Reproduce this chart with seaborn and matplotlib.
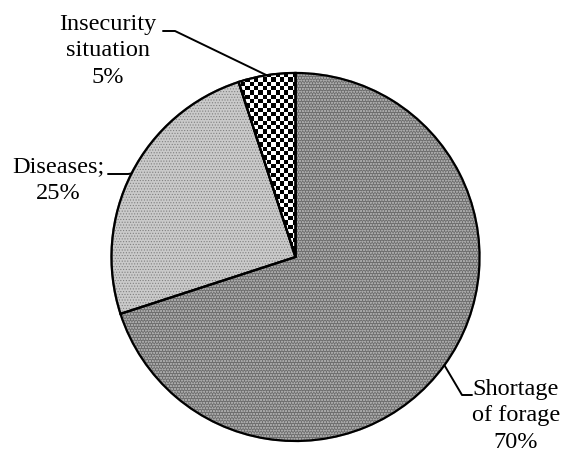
import numpy as np
import matplotlib.pyplot as plt
import seaborn as sns
from matplotlib.patches import Wedge

# data
labels = ["Shortage\nof forage", "Diseases;", "Insecurity\nsituation"]
pcts = [70, 25, 5]
fills = ["#6e6e6e", "#cacaca", "white"]

sns.set_theme(style="white")
plt.rcParams["font.family"] = ["Liberation Serif", "DejaVu Serif"]
plt.rcParams["hatch.linewidth"] = 0.5

W, H = 569, 455
fig = plt.figure(figsize=(W / 100, H / 100), dpi=100)
ax = fig.add_axes([0, 0, 1, 1])

cx, cy, r = 295.5, H - 257, 184

wedges, _ = ax.pie(pcts, colors=fills, startangle=90, counterclock=False,
                   center=(cx, cy), radius=r, frame=True,
                   wedgeprops=dict(edgecolor="black", linewidth=1.6))
ax.set_xlim(0, W)
ax.set_ylim(0, H)
ax.set_aspect("auto")
ax.axis("off")

# fine dotted textures (hatch colour follows edge colour, outline redrawn below)
wedges[0].set_hatch("oooooo")
wedges[0].set_edgecolor("#a8a8a8")
wedges[1].set_hatch("......")
wedges[1].set_edgecolor("#808080")

# checkerboard for the small slice
n = int(2 * r / 4.3)
board = np.indices((n, n)).sum(axis=0) % 2
im = ax.imshow(board, cmap="gray", interpolation="nearest", zorder=3,
               extent=(cx - r, cx + r, cy - r, cy + r), aspect="auto")
im.set_clip_path(wedges[2])
ax.set_xlim(0, W)
ax.set_ylim(0, H)

# outlines on top
for w in wedges:
    ax.add_patch(Wedge((cx, cy), r, w.theta1, w.theta2, facecolor="none",
                       edgecolor="black", linewidth=1.6, zorder=4))

# labels with leader lines
texts = [f"{lab}\n{p}%" for lab, p in zip(labels, pcts)]
text_pos = [(516, H - 416), (58, H - 180), (108, H - 51)]
elbows = [[(462, H - 395), (472, H - 395)],
          [(128, H - 174), (108, H - 174)],
          [(175, H - 31), (163, H - 31)]]
for w, t, (tx, ty), elb in zip(wedges, texts, text_pos, elbows):
    mid = np.deg2rad((w.theta1 + w.theta2) / 2)
    px, py = cx + r * np.cos(mid), cy + r * np.sin(mid)
    xs = [px] + [e[0] for e in elb]
    ys = [py] + [e[1] for e in elb]
    ax.plot(xs, ys, color="black", linewidth=1.4, zorder=10)
    ax.text(tx, ty, t, ha="center", va="center", multialignment="center",
            fontsize=17.5, linespacing=1.35, color="black")

fig.savefig("out.png", dpi=100, facecolor="white")
